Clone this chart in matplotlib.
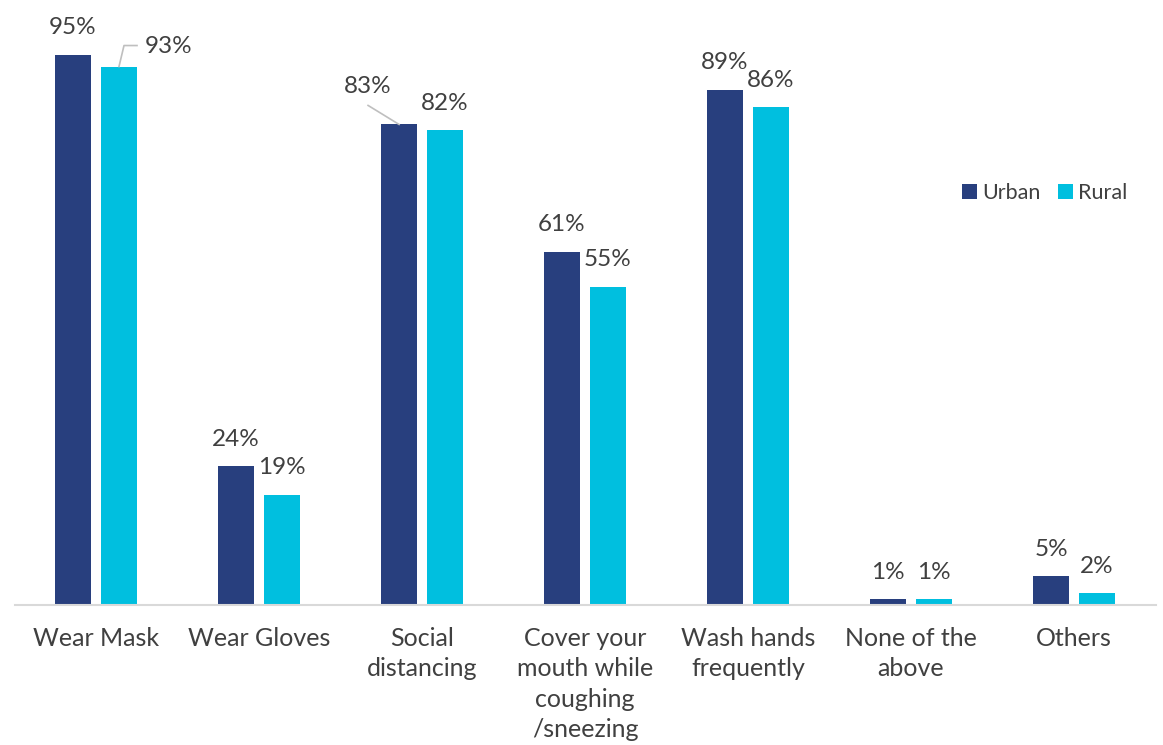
import matplotlib
matplotlib.use("Agg")
import matplotlib.pyplot as plt
from matplotlib.lines import Line2D
from matplotlib.transforms import IdentityTransform
import numpy as np

categories = ["Wear Mask", "Wear Gloves", "Social\ndistancing",
              "Cover your\nmouth while\ncoughing\n/sneezing",
              "Wash hands\nfrequently", "None of the\nabove", "Others"]
urban = [95, 24, 83, 61, 89, 1, 5]
rural = [93, 19, 82, 55, 86, 1, 2]
series_names = ["Urban", "Rural"]

C_URBAN = "#283F7E"
C_RURAL = "#00BFDF"
TXT = "#404040"
LEAD = "#BFBFBF"

plt.rcParams['font.family'] = ['Lato', 'DejaVu Sans']

fig = plt.figure(figsize=(11.63, 7.45), dpi=100)
W, H = 1163, 745
ax = fig.add_axes([14.5 / W, 140 / H, 1141 / W, 579 / H])

x = np.arange(len(categories))
bw = 0.22
off = 23 / 163
ax.bar(x - off, urban, bw, color=C_URBAN, label=series_names[0])
ax.bar(x + off, rural, bw, color=C_RURAL, label=series_names[1])

ax.set_xlim(-0.5, len(categories) - 0.5)
ax.set_ylim(0, 100)
ax.set_yticks([])
for s in ["top", "right", "left"]:
    ax.spines[s].set_visible(False)
ax.spines["bottom"].set_color("#D9D9D9")
ax.spines["bottom"].set_linewidth(1.5)
ax.set_xticks(x)
ax.set_xticklabels(categories, fontsize=18, color=TXT, linespacing=1.38)
ax.tick_params(axis="x", length=0, pad=16)

fs = 17.5
PT = 0.72  # points per pixel at 100 dpi


def leader(points_px, anchor):
    """Draw a leader line through pixel offsets from an anchor (data coords)."""
    ax0, ay0 = ax.transData.transform(anchor)
    xs = [ax0 + dx for dx, dy in points_px]
    ys = [ay0 + dy for dx, dy in points_px]
    fig.add_artist(Line2D(xs, ys, transform=IdentityTransform(),
                          color=LEAD, lw=1.2))


for i, (u, r) in enumerate(zip(urban, rural)):
    if i == 2:
        ax.annotate(f"{u}%", xy=(x[i] - off - bw / 2, u),
                    xytext=(-13 * PT, 38 * PT), textcoords="offset points",
                    ha="center", va="center", fontsize=fs, color=TXT)
        leader([(-13, 19), (18, 0)], (x[i] - off - bw / 2, u))
    else:
        ax.annotate(f"{u}%", xy=(x[i] - off, u), xytext=(0, 27 * PT),
                    textcoords="offset points", ha="center", va="center",
                    fontsize=fs, color=TXT)
    if i == 0:
        ax.annotate(f"{r}%", xy=(x[i] + off, r), xytext=(26 * PT, 20 * PT),
                    textcoords="offset points", ha="left", va="center",
                    fontsize=fs, color=TXT)
        leader([(0, 0), (5, 21), (18, 21)], (x[i] + off, r))
    else:
        ax.annotate(f"{r}%", xy=(x[i] + off, r), xytext=(0, 27 * PT),
                    textcoords="offset points", ha="center", va="center",
                    fontsize=fs, color=TXT)

leg = ax.legend(loc="upper left", bbox_to_anchor=(953 / W, 1 - 174 / H),
                bbox_transform=fig.transFigure, ncol=2, frameon=False,
                fontsize=15.5, handlelength=0.7, handleheight=0.7,
                handletextpad=0.25, columnspacing=0.8, borderaxespad=0)
for t in leg.get_texts():
    t.set_color(TXT)

fig.savefig("out.png", dpi=100)
